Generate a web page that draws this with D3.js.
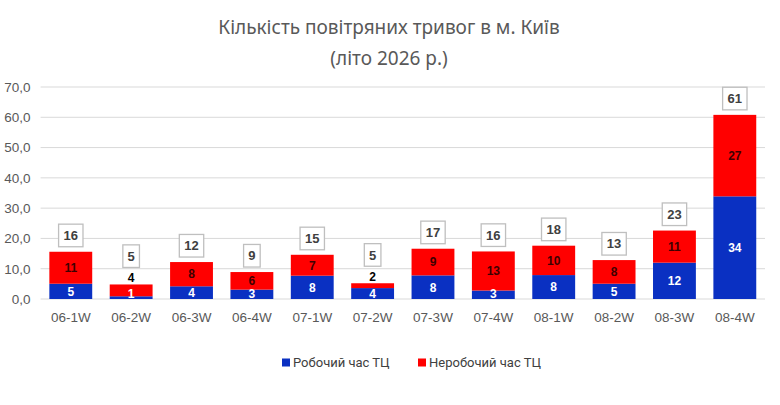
<!DOCTYPE html>
<html>
<head>
<meta charset="utf-8">
<script src="https://d3js.org/d3.v7.min.js"></script>
<style>
  body { margin: 0; background: #fff; }
  #chart { width: 780px; height: 405px; }
  text { font-family: "Liberation Sans", Arial, sans-serif; }
</style>
</head>
<body>
<div id="chart"></div>
<script>
// weeks of summer
const weeks = ["06-1W", "06-2W", "06-3W", "06-4W", "07-1W", "07-2W", "07-3W", "07-4W", "08-1W", "08-2W", "08-3W", "08-4W"];

// alarms during mall working hours (blue) and off hours (red)
const workHours = [5.05, 0.9, 4.2, 3.1, 7.7, 3.6, 7.8, 2.8, 7.9, 5.05, 12.0, 33.9];
const offHours = [10.55, 3.9, 8.0, 5.8, 6.9, 1.6, 8.8, 12.9, 9.7, 7.8, 10.6, 26.9];

const yTicks = [0, 10, 20, 30, 40, 50, 60, 70];
const seriesNames = ["Робочий час ТЦ", "Неробочий час ТЦ"];
const seriesColors = ["#0a30c2", "#ff0000"];

const width = 780, height = 405;
const margin = {top: 87, right: 15, bottom: 106, left: 40.6};

const svg = d3.select("#chart").append("svg")
    .attr("width", width)
    .attr("height", height);

// title
const title = svg.append("text")
    .attr("text-anchor", "middle")
    .attr("fill", "#595959")
    .style("font-family", "'Noto Sans', sans-serif")
    .style("font-size", "19px");
title.append("tspan").attr("x", 389).attr("y", 34).text("Кількість повітряних тривог в м. Київ");
title.append("tspan").attr("x", 389).attr("y", 65).text("(літо 2026 р.)");

const x = d3.scaleBand()
    .domain(weeks)
    .range([margin.left, width - margin.right])
    .paddingInner(0.29)
    .paddingOuter(0.145);

const y = d3.scaleLinear()
    .domain([0, 70])
    .range([height - margin.bottom, margin.top]);

// gridlines
svg.append("g")
    .selectAll("line")
    .data(yTicks)
    .enter().append("line")
    .attr("x1", margin.left)
    .attr("x2", width - margin.right)
    .attr("y1", d => y(d))
    .attr("y2", d => y(d))
    .attr("stroke", "#d9d9d9")
    .attr("stroke-width", 1);

// y axis labels
const yAxis = d3.axisLeft(y)
    .tickValues(yTicks)
    .tickSize(0)
    .tickPadding(10)
    .tickFormat(d => d.toFixed(1).replace(".", ","));
svg.append("g")
    .attr("transform", `translate(${margin.left},0)`)
    .call(yAxis)
    .call(g => g.select(".domain").remove())
    .selectAll("text")
    .attr("fill", "#595959")
    .style("font-size", "13.5px");

// x axis labels
const xAxis = d3.axisBottom(x).tickSize(0).tickPadding(13);
svg.append("g")
    .attr("transform", `translate(0,${y(0)})`)
    .call(xAxis)
    .call(g => g.select(".domain").remove())
    .selectAll("text")
    .attr("fill", "#595959")
    .style("font-size", "13.5px");

// stacked data
const rows = weeks.map((w, i) => ({week: w, work: workHours[i], off: offHours[i]}));
const stack = d3.stack().keys(["work", "off"]);
const layers = stack(rows);

svg.append("g")
    .selectAll("g")
    .data(layers)
    .enter().append("g")
    .attr("fill", (d, i) => seriesColors[i])
    .selectAll("rect")
    .data(d => d)
    .enter().append("rect")
    .attr("x", d => x(d.data.week))
    .attr("width", x.bandwidth())
    .attr("y", d => y(d[1]))
    .attr("height", d => y(d[0]) - y(d[1]));

const fmt = d3.format(".0f");
const labelSize = 12;

// labels for the blue part
svg.append("g")
    .selectAll("text")
    .data(layers[0])
    .enter().append("text")
    .attr("x", d => x(d.data.week) + x.bandwidth() / 2)
    .attr("y", d => Math.min((y(d[0]) + y(d[1])) / 2, y(0) - 5.5))
    .attr("dy", "0.36em")
    .attr("text-anchor", "middle")
    .attr("fill", "#ffffff")
    .style("font-weight", "bold")
    .style("font-size", labelSize + "px")
    .text(d => fmt(d.data.work));

// labels for the red part; small segments get it above the bar
const outside = d => (y(d[0]) - y(d[1])) < 14;
svg.append("g")
    .selectAll("text")
    .data(layers[1])
    .enter().append("text")
    .attr("x", d => x(d.data.week) + x.bandwidth() / 2)
    .attr("y", d => outside(d) ? y(d[1]) - 7 : (y(d[0]) + y(d[1])) / 2)
    .attr("dy", "0.36em")
    .attr("text-anchor", "middle")
    .attr("fill", d => outside(d) ? "#000000" : "#3d0000")
    .style("font-weight", "bold")
    .style("font-size", labelSize + "px")
    .text(d => fmt(d.data.off));

// totals in boxes
const totals = svg.append("g")
    .selectAll("g")
    .data(layers[1])
    .enter().append("g")
    .attr("transform", d => {
        let top = y(d[1]) - (outside(d) ? 17 : 5);
        return `translate(${x(d.data.week) + x.bandwidth() / 2},${top - 11.3})`;
    });

totals.append("rect")
    .attr("x", d => fmt(d[1]).length > 1 ? -12.2 : -8.3)
    .attr("y", -11.3)
    .attr("width", d => fmt(d[1]).length > 1 ? 24.4 : 16.6)
    .attr("height", 22.6)
    .attr("fill", "#ffffff")
    .attr("stroke", "#bfbfbf")
    .attr("stroke-width", 1.3);

totals.append("text")
    .attr("text-anchor", "middle")
    .attr("dy", "0.36em")
    .attr("fill", "#404040")
    .style("font-weight", "bold")
    .style("font-size", "13px")
    .text(d => fmt(d[1]));

// legend
const legendX = [282, 418];
const legend = svg.append("g")
    .selectAll("g")
    .data(seriesNames)
    .enter().append("g")
    .attr("transform", (d, i) => `translate(${legendX[i]},362.5)`);

legend.append("rect")
    .attr("x", 0)
    .attr("y", -4)
    .attr("width", 8)
    .attr("height", 8)
    .attr("fill", (d, i) => seriesColors[i]);

legend.append("text")
    .attr("x", 11)
    .attr("dy", "0.36em")
    .attr("fill", "#404040")
    .style("font-family", "Roboto, sans-serif")
    .style("font-size", "13px")
    .text(d => d);
</script>
</body>
</html>
